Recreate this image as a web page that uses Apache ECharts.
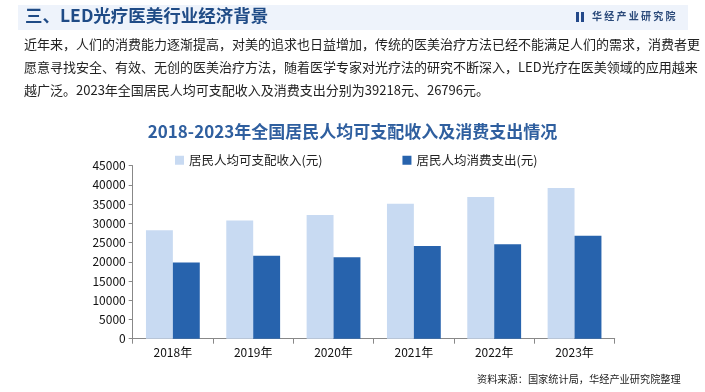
<!DOCTYPE html>
<html>
<head>
<meta charset="utf-8">
<script src="https://cdn.jsdelivr.net/npm/echarts@6/dist/echarts.min.js"></script>
<style>
html,body{margin:0;padding:0;background:#fff;}
#c{width:705px;height:392px;}
</style>
</head>
<body>
<div id="c"></div>
<script>
const categories = ['2018年','2019年','2020年','2021年','2022年','2023年'];
const incomeValues = [28228, 30733, 32189, 35128, 36883, 39218];
const spendValues = [19853, 21559, 21210, 24100, 24538, 26796];
const yTicks = [0, 5000, 10000, 15000, 20000, 25000, 30000, 35000, 40000, 45000];
const seriesNames = ['居民人均可支配收入(元)', '居民人均消费支出(元)'];
const headerTitle = '三、LED光疗医美行业经济背景';
const brandText = '华经产业研究院';
const paragraphLines = [
  '近年来，人们的消费能力逐渐提高，对美的追求也日益增加，传统的医美治疗方法已经不能满足人们的需求，消费者更',
  '愿意寻找安全、有效、无创的医美治疗方法，随着医学专家对光疗法的研究不断深入，LED光疗在医美领域的应用越来',
  '越广泛。2023年全国居民人均可支配收入及消费支出分别为39218元、26796元。'
];
const chartTitle = '2018-2023年全国居民人均可支配收入及消费支出情况';
const sourceText = '资料来源：国家统计局，华经产业研究院整理';

const chart = echarts.init(document.getElementById('c'), null, {renderer:'canvas'});
const font = '"Noto Sans CJK SC", "Microsoft YaHei", sans-serif';
const graphics = [
  {type:'rect', left:18, top:5, shape:{width:670, height:25}, style:{fill:'#eef3fb'}, z:-1},
  {type:'text', left:25, top:7, style:{text:headerTitle, font:'bold 17.5px '+font, fill:'#1f4b86'}},
  {type:'rect', left:576, top:12, shape:{width:3, height:10}, style:{fill:'#24498a'}},
  {type:'rect', left:581, top:12, shape:{width:3, height:10}, style:{fill:'#24498a'}},
  {type:'text', left:592, top:11, style:{text:brandText.split('').join(' '), font:'bold 10px '+font, fill:'#2b4a7a'}},
  {type:'text', left:24, top:38, style:{text:paragraphLines[0], font:'13px '+font, fill:'#222'}},
  {type:'text', left:24, top:61, style:{text:paragraphLines[1], font:'13px '+font, fill:'#222'}},
  {type:'text', left:24, top:84, style:{text:paragraphLines[2], font:'13px '+font, fill:'#222'}},
  {type:'text', left:477, top:374, style:{text:sourceText, font:'10.2px '+font, fill:'#222'}}
];
chart.setOption({
  animation:false,
  backgroundColor:'#fff',
  textStyle:{fontFamily:font},
  title:{text:chartTitle, left:'center', top:118, itemGap:0,
    textStyle:{fontSize:17, fontWeight:'bold', color:'#2f5f9f', fontFamily:font}},
  legend:{top:149, left:170, itemWidth:9, itemHeight:9, itemGap:80, icon:'rect',
    textStyle:{fontSize:12.5, color:'#222', fontFamily:font},
    data:seriesNames},
  grid:{left:132.7, right:90.3, top:165.7, bottom:53.3, containLabel:false},
  xAxis:{type:'category', data:categories,
    axisLine:{lineStyle:{color:'#888'}},
    axisTick:{show:true, length:5, alignWithLabel:false, lineStyle:{color:'#888'}},
    axisLabel:{color:'#111', fontSize:12, margin:8}},
  yAxis:{type:'value', min:yTicks[0], max:yTicks[yTicks.length-1], interval:5000,
    axisLine:{show:true, lineStyle:{color:'#888'}},
    axisTick:{show:true, length:4, lineStyle:{color:'#888'}},
    splitLine:{show:false},
    axisLabel:{color:'#111', fontSize:12, margin:7, formatter:function(v){return String(v);}}},
  series:[
    {name:seriesNames[0], type:'bar', data:incomeValues, barGap:'0%', barCategoryGap:'33%',
      itemStyle:{color:'#c8daf2'}},
    {name:seriesNames[1], type:'bar', data:spendValues, barGap:'0%', barCategoryGap:'33%',
      itemStyle:{color:'#2763ad'}}
  ],
  graphic:graphics
});
</script>
</body>
</html>
